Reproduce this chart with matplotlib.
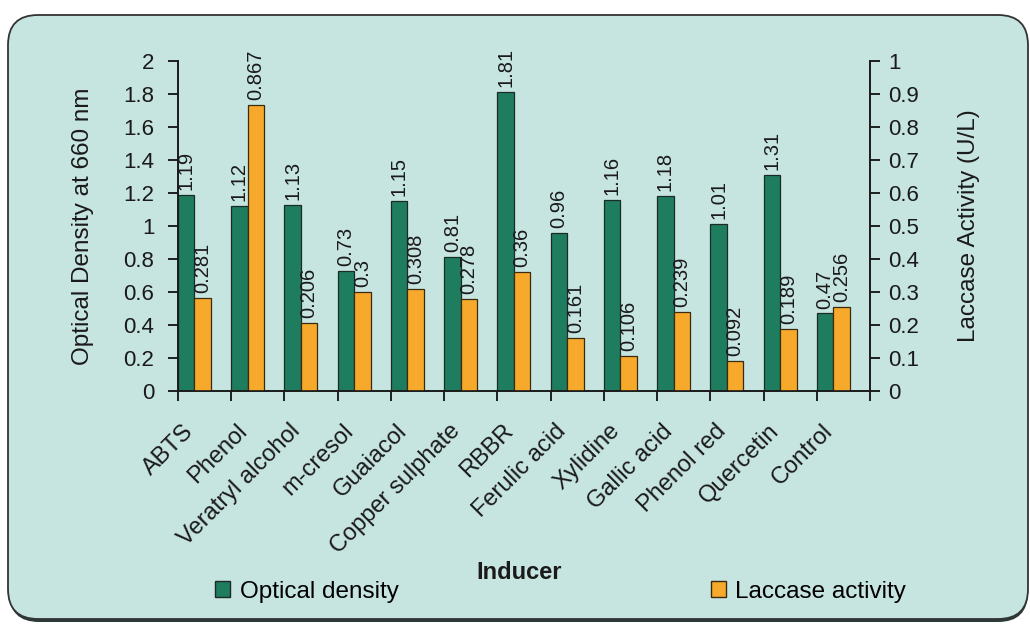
import numpy as np
import matplotlib
matplotlib.use('Agg')
import matplotlib.pyplot as plt
import matplotlib.transforms as mtransforms
from matplotlib.patches import FancyBboxPatch, Patch

plt.rcParams['font.family'] = ['Liberation Sans', 'DejaVu Sans']

inducers = ['ABTS', 'Phenol', 'Veratryl alcohol', 'm-cresol', 'Guaiacol',
            'Copper sulphate', 'RBBR', 'Ferulic acid', 'Xylidine', 'Gallic acid',
            'Phenol red', 'Quercetin', 'Control']
optical_density = [1.19, 1.12, 1.13, 0.73, 1.15, 0.81, 1.81, 0.96, 1.16, 1.18,
                   1.01, 1.31, 0.47]
laccase_activity = [0.281, 0.867, 0.206, 0.3, 0.308, 0.278, 0.36, 0.161, 0.106,
                    0.239, 0.092, 0.189, 0.256]

bg = '#c6e4e0'
green = '#1f7d5f'
orange = '#f6a92a'
ink = '#1a1a1a'

fig = plt.figure(figsize=(10.3, 6.24), dpi=100)
fig.patch.set_facecolor('white')

# rounded panel with a darker shadow edge underneath
shadow = FancyBboxPatch((0.09, 0.02), 10.19, 6.04,
                        boxstyle='round,pad=0,rounding_size=0.3',
                        transform=fig.dpi_scale_trans, facecolor='#2a3a3a',
                        edgecolor='none', zorder=-20)
panel = FancyBboxPatch((0.08, 0.05), 10.2, 6.04,
                       boxstyle='round,pad=0,rounding_size=0.3',
                       transform=fig.dpi_scale_trans, facecolor=bg,
                       edgecolor='#333333', linewidth=1.3, zorder=-10)
fig.patches.extend([shadow, panel])

ax = fig.add_axes([0.1728, 0.3734, 0.6719, 0.5288])
ax2 = ax.twinx()
for a in (ax, ax2):
    a.set_facecolor('none')
    for s in a.spines.values():
        s.set_linewidth(1.2)
        s.set_color(ink)
    a.spines['top'].set_visible(False)

x = np.arange(len(inducers))
w = 0.31

ax.bar(x, optical_density, width=w, align='edge', color=green,
       edgecolor='#1c2a24', linewidth=0.9)
ax2.bar(x + w, laccase_activity, width=w, align='edge', color=orange,
        edgecolor='#3a2a10', linewidth=0.9)

for xi, v in zip(x, optical_density):
    ax.text(xi + w / 2, v + 0.03, f'{v:g}', rotation=90, ha='center',
            va='bottom', fontsize=14.5, color=ink)
for xi, v in zip(x, laccase_activity):
    ax2.text(xi + 1.5 * w, v + 0.015, f'{v:g}', rotation=90, ha='center',
             va='bottom', fontsize=14.5, color=ink)

ax.set_xlim(0, len(inducers))
ax.set_ylim(0, 2)
ax2.set_ylim(0, 1)
ax.set_yticks(np.arange(0, 2.01, 0.2))
ax.set_yticklabels([f'{t:g}' for t in np.arange(0, 2.01, 0.2)])
ax2.set_yticks(np.arange(0, 1.01, 0.1))
ax2.set_yticklabels([f'{t:g}' for t in np.arange(0, 1.01, 0.1)])

# tick marks between categories; names drawn slanted under each centre
ax.set_xticks(np.arange(0, len(inducers) + 1))
ax.set_xticklabels([])
ax.tick_params(axis='x', length=7, width=1.2, direction='out')
name_tr = (ax.get_xaxis_transform() +
           mtransforms.ScaledTranslation(-0.22, -0.29, fig.dpi_scale_trans))
for xi, name in zip(x, inducers):
    ax.text(xi + 0.5, 0, name, transform=name_tr, rotation=45, ha='right',
            va='top', rotation_mode='anchor', fontsize=17, color=ink)

ax.tick_params(axis='y', length=7, width=1.2, labelsize=16, labelcolor=ink, pad=10)
ax2.tick_params(axis='y', length=7, width=1.2, labelsize=16, labelcolor=ink, pad=6)

ax.set_ylabel('Optical Density at 660 nm', fontsize=17.5, color=ink, labelpad=21)
ax2.set_ylabel('Laccase Activity (U/L)', fontsize=17.5, color=ink, labelpad=28)

fig.text(0.504, 0.083, 'Inducer', fontsize=17, fontweight='bold', ha='center',
         va='center', color=ink)

leg_kw = dict(loc='center left', frameon=False, fontsize=17.5, handlelength=0.62,
              handleheight=0.62, handletextpad=0.4, borderpad=0, borderaxespad=0)
fig.legend(handles=[Patch(facecolor=green, edgecolor='#1c2a24',
                          label='Optical density')],
           bbox_to_anchor=(0.209, 0.052), **leg_kw)
fig.legend(handles=[Patch(facecolor=orange, edgecolor='#3a2a10',
                          label='Laccase activity')],
           bbox_to_anchor=(0.690, 0.052), **leg_kw)

fig.savefig('out.png', dpi=100, facecolor=fig.get_facecolor())
